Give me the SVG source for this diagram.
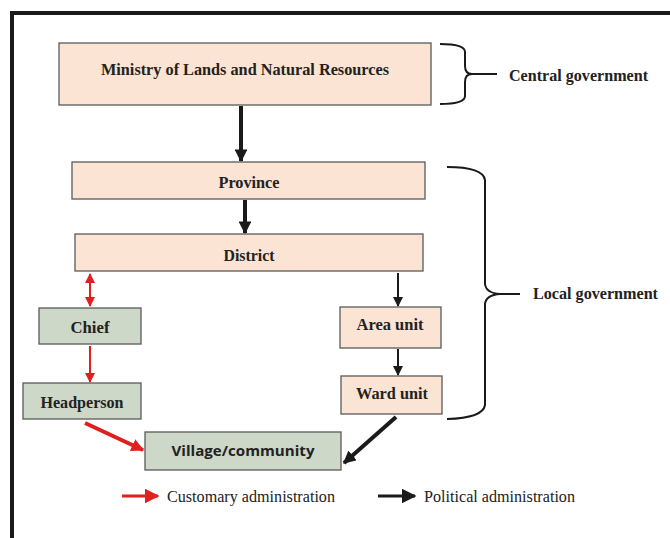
<svg xmlns="http://www.w3.org/2000/svg" width="670" height="538" viewBox="0 0 670 538">
<style>
.bx{stroke:#5a5a5a;stroke-width:1.3}
.peach{fill:#fbe4d3}
.green{fill:#cdd8c8}
.t{font-family:"Liberation Serif","Times New Roman",serif;font-weight:bold;font-size:17px;fill:#222;text-anchor:middle}
.s{font-family:"Open Sans","Liberation Sans",sans-serif;font-weight:bold;font-size:14px;fill:#222;text-anchor:middle}
.lbl{font-family:"Liberation Serif","Times New Roman",serif;font-weight:bold;font-size:17px;fill:#222}
.lg{font-family:"Liberation Serif","Times New Roman",serif;font-size:17px;fill:#222}
.blk{stroke:#1a1a1a;fill:none}
.red{stroke:#e0201f;fill:none}
.br{stroke:#1a1a1a;stroke-width:2;fill:none}
</style>
<defs>
<marker id="ab" viewBox="0 0 10 10" refX="9" refY="5" markerWidth="3.2" markerHeight="3.2" orient="auto" markerUnits="strokeWidth"><path d="M0,0 L10,5 L0,10 z" fill="#1a1a1a"/></marker>
<marker id="abs" viewBox="0 0 10 10" refX="9" refY="5" markerWidth="5" markerHeight="5" orient="auto" markerUnits="strokeWidth"><path d="M0,0 L10,5 L0,10 z" fill="#1a1a1a"/></marker>
<marker id="ar" viewBox="0 0 10 10" refX="9" refY="5" markerWidth="5" markerHeight="5" orient="auto-start-reverse" markerUnits="strokeWidth"><path d="M0,0 L10,5 L0,10 z" fill="#e0201f"/></marker>
<marker id="arb" viewBox="0 0 10 10" refX="9" refY="5" markerWidth="3.2" markerHeight="3.2" orient="auto" markerUnits="strokeWidth"><path d="M0,0 L10,5 L0,10 z" fill="#e0201f"/></marker>
</defs>
<rect width="670" height="538" fill="#fff"/>
<path d="M12,540 V13 H672" fill="none" stroke="#1a1a1a" stroke-width="4"/>

<g id="connectors">
<line class="blk" x1="241" y1="106" x2="241" y2="161" stroke-width="4" marker-end="url(#ab)"/>
<line class="blk" x1="245" y1="200" x2="245" y2="233" stroke-width="4" marker-end="url(#ab)"/>
<line class="blk" x1="398" y1="273" x2="398" y2="306" stroke-width="2" marker-end="url(#abs)"/>
<line class="blk" x1="398" y1="349" x2="398" y2="375" stroke-width="2" marker-end="url(#abs)"/>
<line class="red" x1="90" y1="274" x2="90" y2="306" stroke-width="2" marker-start="url(#ar)" marker-end="url(#ar)"/>
<line class="red" x1="90" y1="346" x2="90" y2="382" stroke-width="2" marker-end="url(#ar)"/>
<line class="red" x1="85" y1="423" x2="143" y2="450" stroke-width="4" marker-end="url(#arb)"/>
<line class="blk" x1="396" y1="417" x2="344" y2="463" stroke-width="4" marker-end="url(#ab)"/>
</g>

<g id="ministry"><rect class="bx peach" x="59" y="43" width="372" height="62"/><text class="t" x="245" y="75" textLength="288" lengthAdjust="spacingAndGlyphs">Ministry of Lands and Natural Resources</text></g>
<g id="province"><rect class="bx peach" x="72" y="162" width="353" height="37"/><text class="t" x="249" y="188" textLength="61" lengthAdjust="spacingAndGlyphs">Province</text></g>
<g id="district"><rect class="bx peach" x="75" y="234" width="348" height="37"/><text class="t" x="249" y="261" textLength="51" lengthAdjust="spacingAndGlyphs">District</text></g>
<g id="chief"><rect class="bx green" x="39" y="308" width="102" height="36"/><text class="t" x="90" y="333" textLength="39" lengthAdjust="spacingAndGlyphs">Chief</text></g>
<g id="headperson"><rect class="bx green" x="23" y="383" width="118" height="36"/><text class="t" x="82" y="408" textLength="83" lengthAdjust="spacingAndGlyphs">Headperson</text></g>
<g id="area-unit"><rect class="bx peach" x="340" y="307" width="101" height="41"/><text class="t" x="390" y="330" textLength="67" lengthAdjust="spacingAndGlyphs">Area unit</text></g>
<g id="ward-unit"><rect class="bx peach" x="341" y="376" width="101" height="38"/><text class="t" x="392" y="399" textLength="72" lengthAdjust="spacingAndGlyphs">Ward unit</text></g>
<g id="village"><rect class="bx green" x="145" y="432" width="196" height="38"/><text class="s" x="243" y="456" textLength="143" lengthAdjust="spacingAndGlyphs">Village/community</text></g>

<g id="central-government">
<path class="br" d="M440,44 Q465,44 465,52 V66 Q465,74 472,74 Q465,74 465,82 V96 Q465,104 440,104"/>
<line class="br" x1="470" y1="74" x2="497" y2="74"/>
<text class="lbl" x="509" y="81" textLength="139" lengthAdjust="spacingAndGlyphs">Central government</text>
</g>
<g id="local-government">
<path class="br" d="M447,167 Q483,167 485,180 V284 Q486,293 500,294 Q486,295 485,304 V405 Q483,418 447,419"/>
<line class="br" x1="498" y1="294" x2="520" y2="294"/>
<text class="lbl" x="533" y="299" textLength="125" lengthAdjust="spacingAndGlyphs">Local government</text>
</g>

<g id="legend">
<line class="red" x1="122" y1="496" x2="158" y2="496" stroke-width="3" marker-end="url(#ar)"/>
<text class="lg" x="167" y="502" textLength="168" lengthAdjust="spacingAndGlyphs">Customary administration</text>
<line class="blk" x1="378" y1="496" x2="415" y2="496" stroke-width="3" marker-end="url(#abs)"/>
<text class="lg" x="424" y="502" textLength="151" lengthAdjust="spacingAndGlyphs">Political administration</text>
</g>
</svg>
